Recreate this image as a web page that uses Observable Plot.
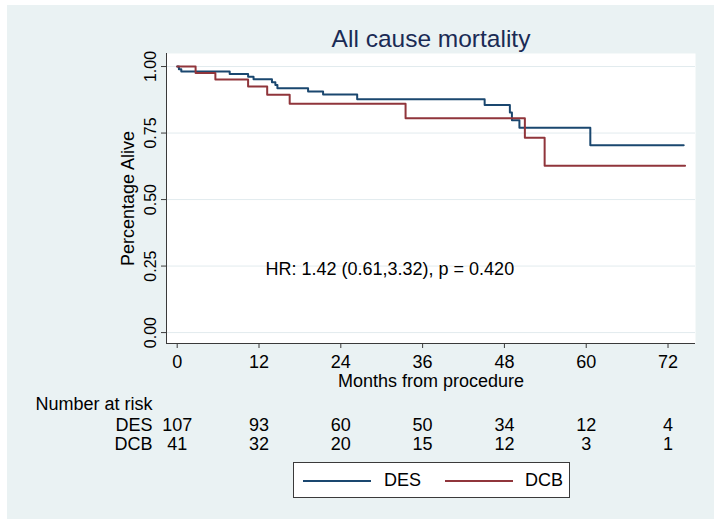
<!DOCTYPE html>
<html>
<head>
<meta charset="utf-8">
<script src="https://cdn.jsdelivr.net/npm/d3@7"></script>
<script src="https://cdn.jsdelivr.net/npm/@observablehq/plot@0.6"></script>
<style>
  body { margin: 0; background: #ffffff; font-family: "Liberation Sans", Arial, sans-serif; }
  #wrap { position: relative; width: 720px; height: 526px; overflow: hidden; }
  #bg { position: absolute; left: 7px; top: 5px; width: 707px; height: 514px; background: #eaf2f3; }
  #chart { position: absolute; left: 0; top: 0; }
  #legend { position: absolute; left: 293px; top: 462px; width: 275px; height: 34px; border: 1px solid #3a3a3a; background: #fff; font-size: 18px; }
  .sw { position: absolute; top: 17px; width: 68px; height: 2px; }
  .lb { position: absolute; top: 7px; line-height: 20px; color: #000; }
</style>
</head>
<body>
<div id="wrap">
  <div id="bg"></div>
  <div id="chart"></div>
  <div id="legend"></div>
</div>
<script>
// ---- data ----
const groups = ["DES", "DCB"];
const groupColors = ["#1a476f", "#90353b"];

const desTime = [0, 0.25, 0.6, 7.7, 10.4, 11.2, 13.9, 14.4, 14.7, 19.2, 21.4, 26.4, 45.1, 48.8, 49.1, 50.2, 60.6, 74.3];
const desSurv = [1.0, 0.99, 0.981, 0.972, 0.962, 0.952, 0.941, 0.931, 0.918, 0.906, 0.895, 0.877, 0.855, 0.827, 0.798, 0.770, 0.704, 0.704];

const dcbTime = [0, 2.7, 5.6, 10.4, 13.2, 16.5, 33.5, 51.0, 53.9, 74.5];
const dcbSurv = [1.0, 0.976, 0.951, 0.925, 0.894, 0.860, 0.806, 0.732, 0.627, 0.627];

const xTicks = [0, 12, 24, 36, 48, 60, 72];
const yTicks = [0, 0.25, 0.5, 0.75, 1];
const yTickLabels = ["0.00", "0.25", "0.50", "0.75", "1.00"];

const riskDES = [107, 93, 60, 50, 34, 12, 4];
const riskDCB = [41, 32, 20, 15, 12, 3, 1];

const titleText = "All cause mortality";
const xLabel = "Months from procedure";
const yLabel = "Percentage Alive";
const riskTitle = "Number at risk";
const hrText = "HR: 1.42 (0.61,3.32), p = 0.420";

// ---- tables built from arrays ----
const curves = [
  ...desTime.map((t, i) => ({group: "DES", time: t, surv: desSurv[i]})),
  ...dcbTime.map((t, i) => ({group: "DCB", time: t, surv: dcbSurv[i]}))
];
const riskRows = [
  {group: "DES", values: riskDES, dy: 82},
  {group: "DCB", values: riskDCB, dy: 101}
];
const yTickData = yTicks.map((v, i) => ({v, label: yTickLabels[i]}));

const xDomain = [-1.57, 76.03];
const yDomain = [-0.041, 1.049];
const font = "Liberation Sans, Arial, sans-serif";

const marks = [
  Plot.frame({fill: "white", stroke: null}),
  Plot.ruleY(yTicks, {stroke: "#e2ebee", strokeWidth: 1}),
  Plot.ruleX([xDomain[0]], {stroke: "#3a3a3a", strokeWidth: 1}),
  Plot.ruleY([yDomain[0]], {stroke: "#3a3a3a", strokeWidth: 1}),
  Plot.axisX(xTicks, {tickSize: 5, tickFormat: () => "", label: null, stroke: "#3a3a3a"}),
  Plot.axisY(yTicks, {tickSize: 5, tickFormat: () => "", label: null, stroke: "#3a3a3a"}),
  // survival curves
  Plot.line(curves, {x: "time", y: "surv", z: "group", stroke: "group", curve: "step-after", strokeWidth: 2}),
  // y tick labels (rotated)
  Plot.text(yTickData, {y: "v", text: "label", frameAnchor: "left", dx: -16, rotate: -90, fontSize: 16, fill: "#000", lineAnchor: "middle", textAnchor: "middle"}),
  // y axis title
  Plot.text([yLabel], {frameAnchor: "left", dx: -38, rotate: -90, fontSize: 18, fill: "#000", lineAnchor: "middle", textAnchor: "middle"}),
  // x tick labels
  Plot.text(xTicks, {x: d => d, text: d => String(d), frameAnchor: "bottom", dy: 19, fontSize: 18, fill: "#000", lineAnchor: "middle"}),
  // x axis title
  Plot.text([xLabel], {frameAnchor: "bottom", dy: 38, fontSize: 18, fill: "#000", lineAnchor: "middle"}),
  // title
  Plot.text([titleText], {frameAnchor: "top", dy: -14, fontSize: 24.5, fill: "#1a2b55", lineAnchor: "middle"}),
  // HR annotation
  Plot.text([hrText], {x: 12.95, y: 0.24, textAnchor: "start", fontSize: 18, fill: "#000", lineAnchor: "middle"}),
  // risk table
  Plot.text([riskTitle], {frameAnchor: "bottom-left", dx: -131, dy: 61, textAnchor: "start", fontSize: 18, fill: "#000", lineAnchor: "middle"})
];
for (const row of riskRows) {
  marks.push(Plot.text([row.group], {frameAnchor: "bottom-left", dx: -14, dy: row.dy, textAnchor: "end", fontSize: 18, fill: "#000", lineAnchor: "middle"}));
  marks.push(Plot.text(xTicks, {x: d => d, text: (d, i) => String(row.values[i]), frameAnchor: "bottom", dy: row.dy, fontSize: 18, fill: "#000", lineAnchor: "middle"}));
}

const chart = Plot.plot({
  width: 720,
  height: 526,
  marginLeft: 166,
  marginRight: 25,
  marginTop: 53,
  marginBottom: 183,
  style: {background: "transparent", fontFamily: font, color: "#000", overflow: "visible"},
  x: {domain: xDomain, axis: null},
  y: {domain: yDomain, axis: null},
  color: {domain: groups, range: groupColors},
  marks
});
document.getElementById("chart").appendChild(chart);

// legend
const legend = document.getElementById("legend");
const legendPos = [{sw: 9, lb: 90}, {sw: 151, lb: 231}];
groups.forEach((g, i) => {
  const s = document.createElement("div");
  s.className = "sw";
  s.style.left = legendPos[i].sw + "px";
  s.style.background = groupColors[i];
  legend.appendChild(s);
  const l = document.createElement("div");
  l.className = "lb";
  l.style.left = legendPos[i].lb + "px";
  l.textContent = g;
  legend.appendChild(l);
});
</script>
</body>
</html>
